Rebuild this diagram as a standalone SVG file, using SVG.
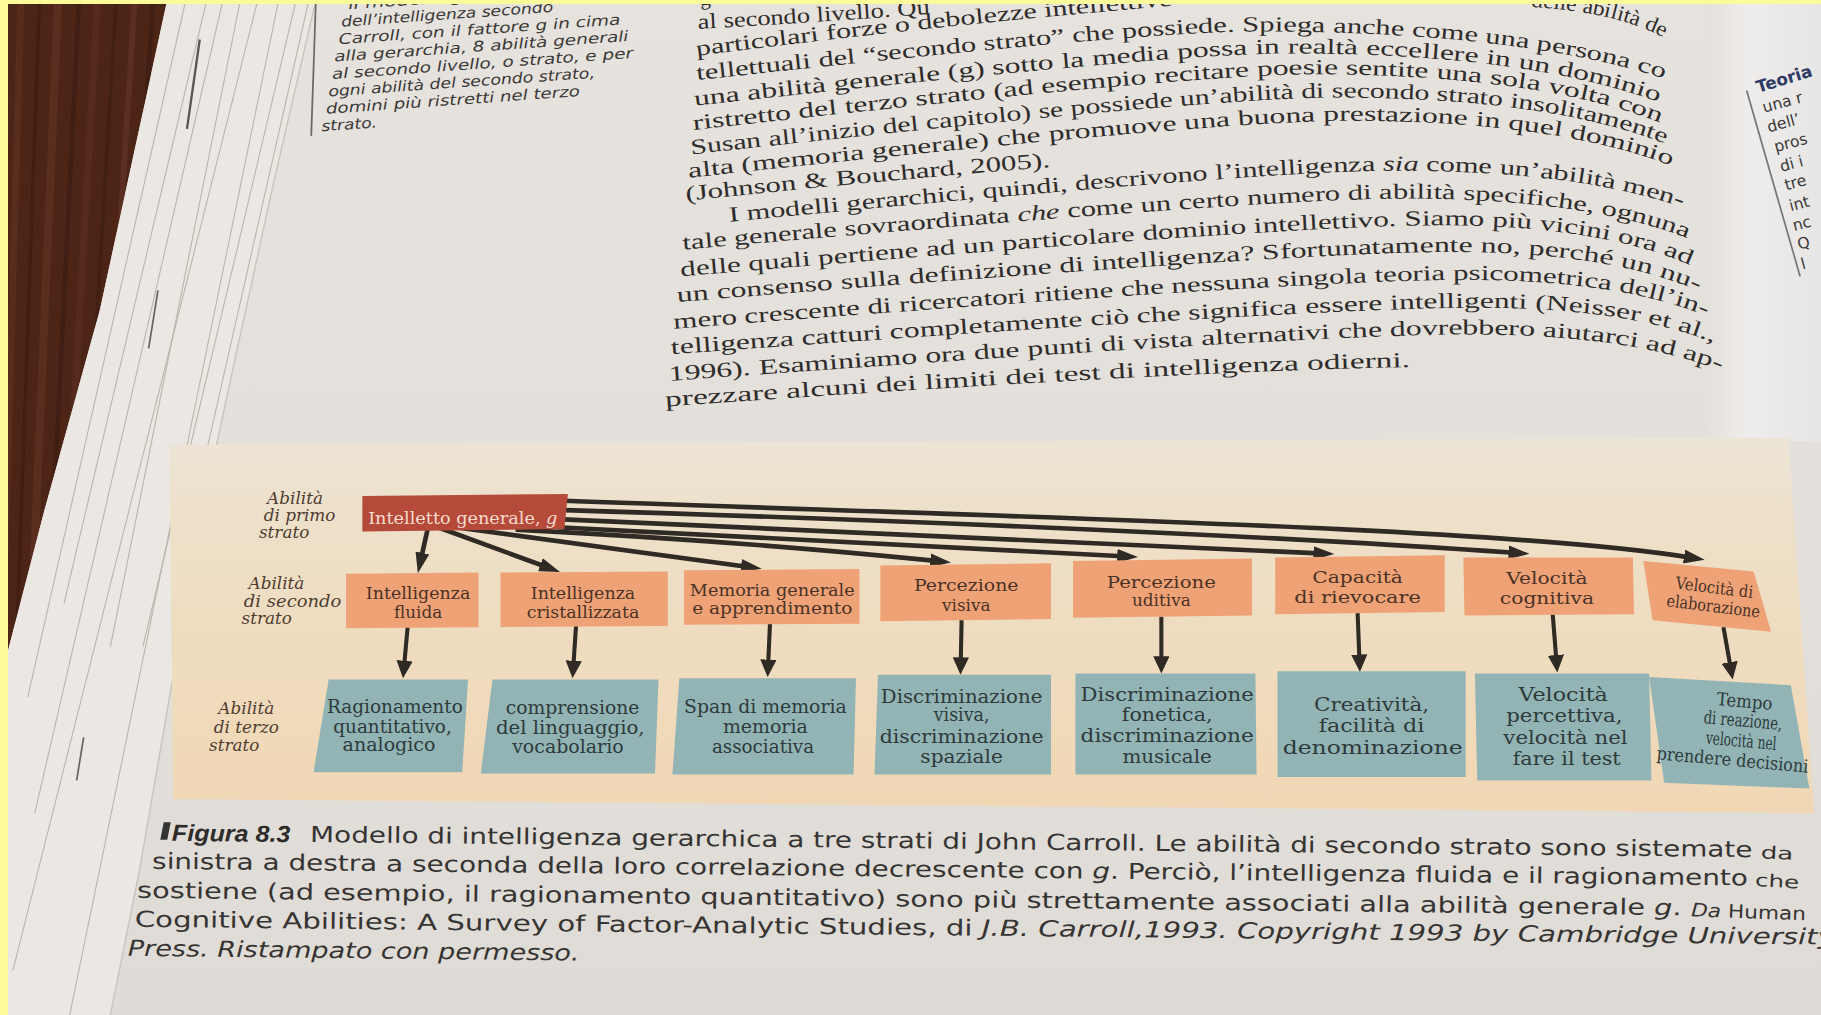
<svg xmlns="http://www.w3.org/2000/svg" width="1821" height="1015" viewBox="0 0 1821 1015">
<defs>
<style>
.body{font-family:"Liberation Serif",serif;font-size:18.5px;fill:#2e2c2a}
.side{font-family:"DejaVu Sans",sans-serif;font-size:12.5px;font-style:italic;fill:#3a3836}
.cap{font-family:"DejaVu Sans",sans-serif;font-size:19px;fill:#363432}
.capb{font-family:"Liberation Sans",sans-serif;font-size:20px;font-weight:bold;font-style:italic;fill:#2e2c2a}
.rp{font-family:"DejaVu Sans",sans-serif;font-size:13.5px;fill:#3a3a3a}
.lbl{font-family:"DejaVu Serif",serif;font-size:14.5px;font-style:italic;fill:#4f3c30}
.t1{font-family:"DejaVu Serif",serif;font-size:14.5px;fill:#f6dccc;text-anchor:middle}
.t2{font-family:"DejaVu Serif",serif;font-size:14.5px;fill:#4a3226;text-anchor:middle}
.t3{font-family:"DejaVu Serif",serif;font-size:15.5px;fill:#2e3a3b;text-anchor:middle}
.b1{fill:#b54a3a}
.b2{fill:#efa276}
.b3{fill:#92b4b5}
.con{fill:none;stroke:#2f2a24;stroke-width:4}
.vcon{fill:none;stroke:#2f2a24;stroke-width:3.5}
.stk{fill:none;stroke:#bdb6ae;stroke-width:1}
.grain{fill:none;stroke-linecap:round}
</style>
<linearGradient id="pageGrad" x1="0" y1="0" x2="0" y2="1">
<stop offset="0" stop-color="#e6e2dd"/><stop offset="0.5" stop-color="#e3dfda"/><stop offset="1" stop-color="#dfdbd6"/>
</linearGradient>
<linearGradient id="bandGrad" x1="0" y1="0" x2="0" y2="1">
<stop offset="0" stop-color="#ece4d5"/><stop offset="0.3" stop-color="#eedfc6"/><stop offset="1" stop-color="#f1d7b4"/>
</linearGradient>
<linearGradient id="gutter" x1="0" y1="0" x2="1" y2="0">
<stop offset="0" stop-color="#e4e0db"/><stop offset="0.35" stop-color="#efedeb"/><stop offset="1" stop-color="#e8e6e4"/>
</linearGradient>
<clipPath id="woodClip"><polygon points="0,0 144,0 86,267 37,444 7,560 0,560"/></clipPath>
<marker id="ah" markerUnits="userSpaceOnUse" viewBox="0 0 18 12" markerWidth="18" markerHeight="12" refX="5" refY="6" orient="auto"><path d="M0,0 L18,6 L0,12 Z" fill="#2f2a24"/></marker>
<marker id="av" markerUnits="userSpaceOnUse" viewBox="0 0 15 14" markerWidth="15" markerHeight="14" refX="3" refY="7" orient="auto"><path d="M0,0 L15,7 L0,14 Z" fill="#2f2a24"/></marker>
<path id="bl1" d="M601,25 Q760,16 900,4"/>
<path id="bl2" d="M600,48 Q850,16 1100,-2"/>
<path id="blf" d="M1318,6 Q1390,10 1432,32"/>
<path id="bl3" d="M600,69 Q984,27 1080,27 Q1314,27 1440,70"/>
<path id="bl4" d="M598,91 Q1008,46 1110,46 Q1322,46 1436,91"/>
<path id="bl5" d="M597,112 Q1023,64 1130,64 Q1330,64 1438,109"/>
<path id="bl6" d="M595,133 Q1039,84 1150,84 Q1340,84 1442,127"/>
<path id="bl7" d="M593,153 Q1047,104 1160,104 Q1347,104 1447,146"/>
<path id="bl8" d="M591,173 Q750,156 915,143"/>
<path id="bl9" d="M628,191 Q1086,147 1200,147 Q1366,147 1455,181"/>
<path id="bl10" d="M588,215 Q1086,171 1210,171 Q1372,171 1460,208"/>
<path id="bl11" d="M586,238 Q1109,194 1240,194 Q1385,194 1463,232"/>
<path id="bl12" d="M583,260 Q1117,217 1250,217 Q1393,217 1470,254"/>
<path id="bl13" d="M580,283 Q1124,241 1260,241 Q1400,241 1476,275"/>
<path id="bl14" d="M578,305 Q1132,265 1270,265 Q1408,265 1482,298"/>
<path id="bl15" d="M576,328 Q1127,288 1265,288 Q1410,288 1488,322"/>
<path id="bl16" d="M573,350 Q1000,320 1218,316"/>
</defs>

<rect width="1821" height="1015" fill="#e4e0db"/>

<g transform="scale(1.16135)">
<rect x="0" y="0" width="1568" height="874" fill="url(#pageGrad)"/>
<rect x="1470" y="0" width="98" height="380" fill="url(#gutter)"/>

<!-- wood -->
<g id="wood">
<polygon points="0,0 144,0 86,267 37,444 7,560 0,560" fill="#4c2517"/>
<g clip-path="url(#woodClip)" class="grain">
<path d="M18,0 L2,560" stroke="#5c3020" stroke-width="6" opacity="0.7"/>
<path d="M34,0 L14,560" stroke="#3a1a0e" stroke-width="3" opacity="0.6"/>
<path d="M50,0 L26,560" stroke="#633524" stroke-width="7" opacity="0.6"/>
<path d="M68,0 L40,560" stroke="#381a10" stroke-width="4" opacity="0.6"/>
<path d="M84,0 L52,560" stroke="#5e3121" stroke-width="6" opacity="0.6"/>
<path d="M100,0 L66,560" stroke="#3c1c11" stroke-width="3" opacity="0.6"/>
<path d="M116,0 L80,560" stroke="#66382a" stroke-width="5" opacity="0.55"/>
<path d="M132,0 L94,560" stroke="#3b1b10" stroke-width="4" opacity="0.6"/>
</g>
</g>

<!-- page stack -->
<g id="page-stack">
<polygon points="144,0 272,0 235,160 200,320 170,460 146,600 120,750 95,874 0,874 0,560 7,560 37,444 86,267" fill="#ebe8e4"/>
<path class="stk" d="M160,0 L24,600"/>
<path class="stk" d="M178,0 L55,520"/>
<path class="stk" d="M192,0 L30,700"/>
<path class="stk" d="M207,0 L95,557"/>
<path class="stk" d="M222,0 L11,836"/>
<path class="stk" d="M240,0 L60,874"/>
<path class="stk" d="M255,0 L123,557"/>
<path class="stk" d="M266,0 L148,520"/>
<path d="M172,34 L161,111" stroke="#5a5652" stroke-width="2" fill="none"/>
<path d="M136,250 L128,300" stroke="#6a6560" stroke-width="1.5" fill="none"/>
<path d="M72,635 L66,672" stroke="#6a6560" stroke-width="1.5" fill="none"/>
<path d="M272,0 L235,160 L200,320 L170,460 L146,600 L120,750 L95,874" stroke="#c9c3bc" stroke-width="1.2" fill="none"/>
</g>

<!-- sidebar -->
<g id="sidebar" class="side">
<line x1="272" y1="0" x2="268" y2="117" stroke="#6a6866" stroke-width="1.5"/>
<text x="300" y="8" transform="rotate(-4 300 8)" textLength="134" lengthAdjust="spacingAndGlyphs">il modello gerar</text>
<text x="294" y="23" transform="rotate(-4 294 23)" textLength="183" lengthAdjust="spacingAndGlyphs">dell’intelligenza secondo</text>
<text x="292" y="38" transform="rotate(-4 292 38)" textLength="243" lengthAdjust="spacingAndGlyphs">Carroll, con il fattore g in cima</text>
<text x="288" y="53" transform="rotate(-4 288 53)" textLength="254" lengthAdjust="spacingAndGlyphs">alla gerarchia, 8 abilità generali</text>
<text x="286" y="68" transform="rotate(-4 286 68)" textLength="260" lengthAdjust="spacingAndGlyphs">al secondo livello, o strato, e per</text>
<text x="283" y="83" transform="rotate(-4 283 83)" textLength="230" lengthAdjust="spacingAndGlyphs">ogni abilità del secondo strato,</text>
<text x="281" y="98" transform="rotate(-4 281 98)" textLength="219" lengthAdjust="spacingAndGlyphs">domini più ristretti nel terzo</text>
<text x="277" y="113" transform="rotate(-4 277 113)" textLength="48" lengthAdjust="spacingAndGlyphs">strato.</text>
</g>

<!-- body text -->
<g id="body-text" class="body">
<text x="603" y="5" transform="rotate(-8 603 5)">gen</text>
<text><textPath href="#bl1" textLength="200" lengthAdjust="spacingAndGlyphs">al secondo livello. Qu</textPath></text>
<text><textPath href="#bl2" textLength="412" lengthAdjust="spacingAndGlyphs">particolari forze o debolezze intellettive</textPath></text>
<text><textPath href="#blf" textLength="118" lengthAdjust="spacingAndGlyphs">delle abilità de</textPath></text>
<text><textPath href="#bl3" textLength="838" lengthAdjust="spacingAndGlyphs">tellettuali del “secondo strato” che possiede. Spiega anche come una persona co</textPath></text>
<text><textPath href="#bl4" textLength="836" lengthAdjust="spacingAndGlyphs">una abilità generale (g) sotto la media possa in realtà eccellere in un dominio</textPath></text>
<text><textPath href="#bl5" textLength="839" lengthAdjust="spacingAndGlyphs">ristretto del terzo strato (ad esempio recitare poesie sentite una sola volta con</textPath></text>
<text><textPath href="#bl6" textLength="845" lengthAdjust="spacingAndGlyphs">Susan all’inizio del capitolo) se possiede un’abilità di secondo strato insolitamente</textPath></text>
<text><textPath href="#bl7" textLength="852" lengthAdjust="spacingAndGlyphs">alta (memoria generale) che promuove una buona prestazione in quel dominio</textPath></text>
<text><textPath href="#bl8" textLength="315" lengthAdjust="spacingAndGlyphs">(Johnson &amp; Bouchard, 2005).</textPath></text>
<text><textPath href="#bl9" textLength="825" lengthAdjust="spacingAndGlyphs">I modelli gerarchici, quindi, descrivono l’intelligenza <tspan font-style="italic">sia</tspan> come un’abilità men-</textPath></text>
<text><textPath href="#bl10" textLength="870" lengthAdjust="spacingAndGlyphs">tale generale sovraordinata <tspan font-style="italic">che</tspan> come un certo numero di abilità specifiche, ognuna</textPath></text>
<text><textPath href="#bl11" textLength="875" lengthAdjust="spacingAndGlyphs">delle quali pertiene ad un particolare dominio intellettivo. Siamo più vicini ora ad</textPath></text>
<text><textPath href="#bl12" textLength="885" lengthAdjust="spacingAndGlyphs">un consenso sulla definizione di intelligenza? Sfortunatamente no, perché un nu-</textPath></text>
<text><textPath href="#bl13" textLength="894" lengthAdjust="spacingAndGlyphs">mero crescente di ricercatori ritiene che nessuna singola teoria psicometrica dell’in-</textPath></text>
<text><textPath href="#bl14" textLength="902" lengthAdjust="spacingAndGlyphs">telligenza catturi completamente ciò che significa essere intelligenti (Neisser et al.,</textPath></text>
<text><textPath href="#bl15" textLength="910" lengthAdjust="spacingAndGlyphs">1996). Esaminiamo ora due punti di vista alternativi che dovrebbero aiutarci ad ap-</textPath></text>
<text><textPath href="#bl16" textLength="642" lengthAdjust="spacingAndGlyphs">prezzare alcuni dei limiti dei test di intelligenza odierni.</textPath></text>
</g>

<!-- right page margin -->
<g id="right-page" class="rp">
<line x1="1504" y1="78" x2="1550" y2="238" stroke="#7a7876" stroke-width="1.5"/>
<text x="1514" y="80" transform="rotate(-17 1514 80)" font-weight="bold" font-size="14.5" fill="#2d3b66">Teoria</text>
<text x="1519" y="97" transform="rotate(-15 1519 97)">una r</text>
<text x="1523" y="114" transform="rotate(-15 1523 114)">dell’</text>
<text x="1529" y="131" transform="rotate(-15 1529 131)">pros</text>
<text x="1534" y="148" transform="rotate(-15 1534 148)">di i</text>
<text x="1538" y="164" transform="rotate(-15 1538 164)">tre</text>
<text x="1542" y="182" transform="rotate(-15 1542 182)">int</text>
<text x="1545" y="199" transform="rotate(-15 1545 199)">nc</text>
<text x="1549" y="215" transform="rotate(-15 1549 215)">Q</text>
<text x="1552" y="232" transform="rotate(-15 1552 232)">l</text>
</g>

<!-- diagram background band -->
<polygon id="band" points="146,383 1540,377 1562,700 149,688" fill="url(#bandGrad)"/>

<!-- row labels -->
<g id="label-primo" class="lbl">
<text x="230" y="434">Abilità</text>
<text x="227" y="449">di primo</text>
<text x="223" y="463">strato</text>
</g>
<g id="label-secondo" class="lbl">
<text x="214" y="507">Abilità</text>
<text x="210" y="523" textLength="84" lengthAdjust="spacingAndGlyphs">di secondo</text>
<text x="208" y="537">strato</text>
</g>
<g id="label-terzo" class="lbl">
<text x="188" y="615">Abilità</text>
<text x="184" y="631">di terzo</text>
<text x="180" y="647">strato</text>
</g>

<!-- connectors -->
<g id="connectors">
<path class="con" marker-end="url(#ah)" d="M369,452 L362.6,481"/>
<path class="con" marker-end="url(#ah)" d="M377,454 L470,488"/>
<path class="con" marker-end="url(#ah)" d="M392,454 L643,488"/>
<path class="con" marker-end="url(#ah)" d="M444,456 Q640,466 806,483"/>
<path class="con" marker-end="url(#ah)" d="M480,454 L967,479"/>
<path class="con" marker-end="url(#ah)" d="M480,447 L1136,476.5"/>
<path class="con" marker-end="url(#ah)" d="M480,439 Q1000,455 1304,476"/>
<path class="con" marker-end="url(#ah)" d="M480,431 C900,446 1300,455 1455,480"/>
<path class="vcon" marker-end="url(#av)" d="M351,540 L348.1,572"/>
<path class="vcon" marker-end="url(#av)" d="M496,539 L493.8,572"/>
<path class="vcon" marker-end="url(#av)" d="M663,537 L661.5,571"/>
<path class="vcon" marker-end="url(#av)" d="M828,534 L827.3,569"/>
<path class="vcon" marker-end="url(#av)" d="M1000,531 L1000,568"/>
<path class="vcon" marker-end="url(#av)" d="M1169,528 L1170.5,566.6"/>
<path class="vcon" marker-end="url(#av)" d="M1337,529 L1340,567"/>
<path class="vcon" marker-end="url(#av)" d="M1484,540 L1489.9,573.2"/>
</g>

<!-- first stratum -->
<g id="node-g">
<polygon class="b1" points="312,427 489,425.4 486,455.6 312,457.6"/>
<text class="t1" x="398.5" y="451" textLength="163" lengthAdjust="spacingAndGlyphs">Intelletto generale, <tspan font-style="italic">g</tspan></text>
</g>

<!-- second stratum -->
<g id="node-fluida">
<polygon class="b2" points="298,494 412,493 412,540 298,541"/>
<text class="t2" x="360" y="516" textLength="90" lengthAdjust="spacingAndGlyphs">Intelligenza</text>
<text class="t2" x="360" y="532">fluida</text>
</g>
<g id="node-cristallizzata">
<polygon class="b2" points="431,493 575,492 575,539 431,540"/>
<text class="t2" x="502" y="516" textLength="90" lengthAdjust="spacingAndGlyphs">Intelligenza</text>
<text class="t2" x="502" y="532" textLength="97" lengthAdjust="spacingAndGlyphs">cristallizzata</text>
</g>
<g id="node-memoria">
<polygon class="b2" points="589,491 740,490 740,537 589,538"/>
<text class="t2" x="665" y="513" textLength="142" lengthAdjust="spacingAndGlyphs">Memoria generale</text>
<text class="t2" x="665" y="529" textLength="138" lengthAdjust="spacingAndGlyphs">e apprendimento</text>
</g>
<g id="node-visiva">
<polygon class="b2" points="758,487 905,485 905,533 758,535"/>
<text class="t2" x="832" y="509" textLength="90" lengthAdjust="spacingAndGlyphs">Percezione</text>
<text class="t2" x="832" y="526">visiva</text>
</g>
<g id="node-uditiva">
<polygon class="b2" points="924,483 1078,481 1078,530 924,532"/>
<text class="t2" x="1000" y="506" textLength="94" lengthAdjust="spacingAndGlyphs">Percezione</text>
<text class="t2" x="1000" y="522">uditiva</text>
</g>
<g id="node-rievocare">
<polygon class="b2" points="1098,480 1244,478 1244,527 1098,529"/>
<text class="t2" x="1169" y="502" textLength="78" lengthAdjust="spacingAndGlyphs">Capacità</text>
<text class="t2" x="1169" y="519" textLength="109" lengthAdjust="spacingAndGlyphs">di rievocare</text>
</g>
<g id="node-cognitiva">
<polygon class="b2" points="1260,480 1406,480 1407,529 1261,530"/>
<text class="t2" x="1332" y="503" textLength="70" lengthAdjust="spacingAndGlyphs">Velocità</text>
<text class="t2" x="1332" y="520" textLength="81" lengthAdjust="spacingAndGlyphs">cognitiva</text>
</g>
<g id="node-elaborazione">
<polygon class="b2" points="1415,483 1510,492 1525,544 1423,534"/>
<g transform="rotate(7 1476 516)">
<text class="t2" x="1475" y="511" textLength="67" lengthAdjust="spacingAndGlyphs">Velocità di</text>
<text class="t2" x="1476" y="527" textLength="81" lengthAdjust="spacingAndGlyphs">elaborazione</text>
</g>
</g>

<!-- third stratum -->
<g id="node-ragionamento">
<polygon class="b3" points="283,585 403,585 398,665 270,665"/>
<text class="t3" x="340" y="614" textLength="117" lengthAdjust="spacingAndGlyphs">Ragionamento</text>
<text class="t3" x="338" y="631" textLength="102" lengthAdjust="spacingAndGlyphs">quantitativo,</text>
<text class="t3" x="335" y="647" textLength="80" lengthAdjust="spacingAndGlyphs">analogico</text>
</g>
<g id="node-comprensione">
<polygon class="b3" points="424,585 567,585 564,666 414,666"/>
<text class="t3" x="493" y="615" textLength="115" lengthAdjust="spacingAndGlyphs">comprensione</text>
<text class="t3" x="491" y="632" textLength="128" lengthAdjust="spacingAndGlyphs">del linguaggio,</text>
<text class="t3" x="489" y="648" textLength="96" lengthAdjust="spacingAndGlyphs">vocabolario</text>
</g>
<g id="node-span">
<polygon class="b3" points="585,584 737,584 735,667 579,667"/>
<text class="t3" x="659" y="614" textLength="140" lengthAdjust="spacingAndGlyphs">Span di memoria</text>
<text class="t3" x="659" y="631" textLength="73" lengthAdjust="spacingAndGlyphs">memoria</text>
<text class="t3" x="657" y="648" textLength="88" lengthAdjust="spacingAndGlyphs">associativa</text>
</g>
<g id="node-discr-visiva">
<polygon class="b3" points="756,581 905,581 905,667 753,667"/>
<text class="t3" x="828" y="605" textLength="139" lengthAdjust="spacingAndGlyphs">Discriminazione</text>
<text class="t3" x="828" y="621" textLength="48" lengthAdjust="spacingAndGlyphs">visiva,</text>
<text class="t3" x="828" y="639.5" textLength="141" lengthAdjust="spacingAndGlyphs">discriminazione</text>
<text class="t3" x="828" y="657" textLength="71" lengthAdjust="spacingAndGlyphs">spaziale</text>
</g>
<g id="node-discr-fonetica">
<polygon class="b3" points="926,580 1081,580 1082,667 926,667"/>
<text class="t3" x="1005" y="604" textLength="149" lengthAdjust="spacingAndGlyphs">Discriminazione</text>
<text class="t3" x="1005" y="621" textLength="78" lengthAdjust="spacingAndGlyphs">fonetica,</text>
<text class="t3" x="1005" y="638.5" textLength="149" lengthAdjust="spacingAndGlyphs">discriminazione</text>
<text class="t3" x="1005" y="657" textLength="77" lengthAdjust="spacingAndGlyphs">musicale</text>
</g>
<g id="node-creativita">
<polygon class="b3" points="1100,578 1262,578 1262,669 1100,669"/>
<text class="t3" x="1181" y="612.5" textLength="99" lengthAdjust="spacingAndGlyphs">Creatività,</text>
<text class="t3" x="1181" y="630.5" textLength="91" lengthAdjust="spacingAndGlyphs">facilità di</text>
<text class="t3" x="1182" y="649" textLength="155" lengthAdjust="spacingAndGlyphs">denominazione</text>
</g>
<g id="node-percettiva">
<polygon class="b3" points="1270,580 1420,580 1422,672 1272,672"/>
<text class="t3" x="1346" y="604" textLength="77" lengthAdjust="spacingAndGlyphs">Velocità</text>
<text class="t3" x="1347" y="622" textLength="100" lengthAdjust="spacingAndGlyphs">percettiva,</text>
<text class="t3" x="1348" y="640.5" textLength="107" lengthAdjust="spacingAndGlyphs">velocità nel</text>
<text class="t3" x="1349" y="658.5" textLength="93" lengthAdjust="spacingAndGlyphs">fare il test</text>
</g>
<g id="node-reazione">
<polygon class="b3" points="1420,583 1542,590 1558,679 1433,674"/>
<g transform="rotate(5 1498 630)">
<text class="t3" x="1500" y="609" textLength="48" lengthAdjust="spacingAndGlyphs">Tempo</text>
<text class="t3" x="1500" y="625.5" textLength="68" lengthAdjust="spacingAndGlyphs">di reazione,</text>
<text class="t3" x="1500" y="643" textLength="61" lengthAdjust="spacingAndGlyphs">velocità nel</text>
<text class="t3" x="1494" y="660" textLength="131" lengthAdjust="spacingAndGlyphs">prendere decisioni</text>
</g>
</g>

<!-- caption -->
<g id="caption" class="cap">
<polygon points="141,708 147,708 144,723 138,723" fill="#333"/>
<text class="capb" x="148" y="724" transform="rotate(0.6 148 724)" textLength="102" lengthAdjust="spacingAndGlyphs">Figura 8.3</text>
<text x="267" y="725" transform="rotate(0.6 267 725)" textLength="1242" lengthAdjust="spacingAndGlyphs">Modello di intelligenza gerarchica a tre strati di John Carroll. Le abilità di secondo strato sono sistemate</text>
<text x="1516" y="739" transform="rotate(3 1516 739)" font-size="15" textLength="28" lengthAdjust="spacingAndGlyphs">da</text>
<text x="131" y="748" transform="rotate(0.6 131 748)" textLength="1374" lengthAdjust="spacingAndGlyphs">sinistra a destra a seconda della loro correlazione decrescente con <tspan font-style="italic">g</tspan>. Perciò, l’intelligenza fluida e il ragionamento</text>
<text x="1511" y="763" transform="rotate(3 1511 763)" font-size="15" textLength="38" lengthAdjust="spacingAndGlyphs">che</text>
<text x="118" y="773" transform="rotate(0.65 118 773)" textLength="1330" lengthAdjust="spacingAndGlyphs">sostiene (ad esempio, il ragionamento quantitativo) sono più strettamente associati alla abilità generale <tspan font-style="italic">g</tspan>.</text>
<text x="1456" y="789" transform="rotate(2 1456 789)" font-size="16" textLength="99" lengthAdjust="spacingAndGlyphs"><tspan font-style="italic">Da</tspan> Human</text>
<text x="116" y="798" transform="rotate(0.6 116 798)" textLength="1464" lengthAdjust="spacingAndGlyphs">Cognitive Abilities: A Survey of Factor-Analytic Studies, di <tspan font-style="italic">J.B. Carroll,1993. Copyright 1993 by Cambridge University</tspan></text>
<text x="110" y="823" transform="rotate(0.6 110 823)" font-style="italic" textLength="389" lengthAdjust="spacingAndGlyphs">Press. Ristampato con permesso.</text>
</g>
</g>

<rect x="0" y="0" width="1821" height="4" fill="#fbfb9a"/>
<rect x="0" y="0" width="8" height="1015" fill="#fbfb9a"/>
</svg>
